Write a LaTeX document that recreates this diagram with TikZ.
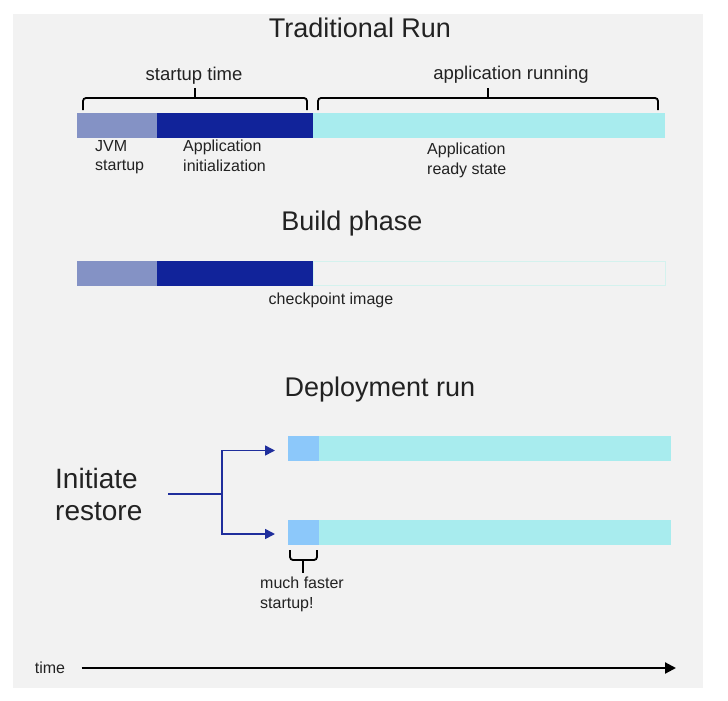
\documentclass[tikz,border=0pt]{standalone}
\usepackage{fontspec}
\setmainfont{Liberation Sans}
\usetikzlibrary{arrows.meta}
\definecolor{panel}{HTML}{F2F2F2}
\definecolor{jvm}{HTML}{8492C5}
\definecolor{appinit}{HTML}{11239A}
\definecolor{ready}{HTML}{A8ECEE}
\definecolor{restore}{HTML}{8CC8FA}
\definecolor{outline}{HTML}{D4F2EE}
\definecolor{flowblue}{HTML}{1F2E9C}
\definecolor{ink}{HTML}{222222}
\begin{document}
\begin{tikzpicture}[x=1pt,y=-1pt,
  every node/.style={text=ink,font=\fontsize{16}{19}\selectfont},
  title/.style={font=\fontsize{27}{30}\selectfont},
  label/.style={font=\fontsize{18.5}{22}\selectfont},
  small/.style={align=left,anchor=north west,inner sep=0pt,font=\fontsize{16}{19.5}\selectfont},
  seg/.style={anchor=north west,inner sep=0pt,outer sep=0pt,minimum height=25pt},
  brace/.style={draw=black,line width=1.8pt,rounded corners=3pt},
  flow/.style={draw=flowblue,line width=1.6pt,-{Triangle[length=10pt,width=10pt]}},
  timeline/.style={draw=black,line width=2.2pt,-{Triangle[length=11pt,width=11pt]}}
]
\useasboundingbox (0,0) rectangle (728,701);
\fill[panel] (13,14) rectangle (703,688);

% ---- Traditional run ----
\node[title] (t1) at (360,28) {Traditional Run};
\node[seg,fill=jvm,minimum width=80pt] (tj) at (77,113) {};
\node[seg,fill=appinit,minimum width=156pt] (ti) at (157,113) {};
\node[seg,fill=ready,minimum width=352pt] (tr) at (313,113) {};

\draw[brace] (83,110) -- (83,98) -- (307,98) -- (307,110);
\draw[brace,rounded corners=0pt] (195,98) -- (195,88);
\node[label] (st) at (194,76) {startup time};
\draw[brace] (318,110) -- (318,98) -- (658,98) -- (658,110);
\draw[brace,rounded corners=0pt] (488,98) -- (488,88);
\node[label] (ar) at (511,75) {application running};

\node[small] (lj) at (95,140) {JVM\\startup};
\node[small] (li) at (183,140) {Application\\initialization};
\node[small] (lr) at (427,143) {Application\\ready state};

% ---- Build phase ----
\node[title] (t2) at (352,224) {Build phase};
\node[seg,fill=jvm,minimum width=80pt] (bj) at (77,261) {};
\node[seg,fill=appinit,minimum width=156pt] (bi) at (157,261) {};
\node[seg,draw=outline,line width=1pt,minimum width=352pt,minimum height=24pt] (bc) at (313,261.5) {};
\node (ci) at (331,300) {checkpoint image};

% ---- Deployment run ----
\node[title] (t3) at (380,390) {Deployment run};
\node[seg,fill=restore,minimum width=31pt] (d1r) at (288,436) {};
\node[seg,fill=ready,minimum width=352pt] (d1a) at (319,436) {};
\node[seg,fill=restore,minimum width=31pt] (d2r) at (288,520) {};
\node[seg,fill=ready,minimum width=352pt] (d2a) at (319,520) {};

\node[align=left,anchor=west,inner sep=0pt,font=\fontsize{28}{32}\selectfont] (ir) at (55,494) {Initiate\\restore};
\coordinate (fork) at (168,494);
\coordinate (split) at (222,494);
\draw[flow] (fork) -- (split) |- ([xshift=-13pt,yshift=-2pt]d1r.west);
\draw[flow] (split) |- ([xshift=-13pt,yshift=-1.5pt]d2r.west);

\draw[brace] (290,550) -- (290,560) -- (317,560) -- (317,550);
\draw[brace,rounded corners=0pt] (303,560) -- (303,573);
\node[small] (mf) at (260,577) {much faster\\startup!};

% ---- time axis ----
\node (tm) at (50,668) {time};
\coordinate (tend) at (676,668);
\draw[timeline] ([xshift=13pt]tm.east) -- (tend);
\end{tikzpicture}
\end{document}
